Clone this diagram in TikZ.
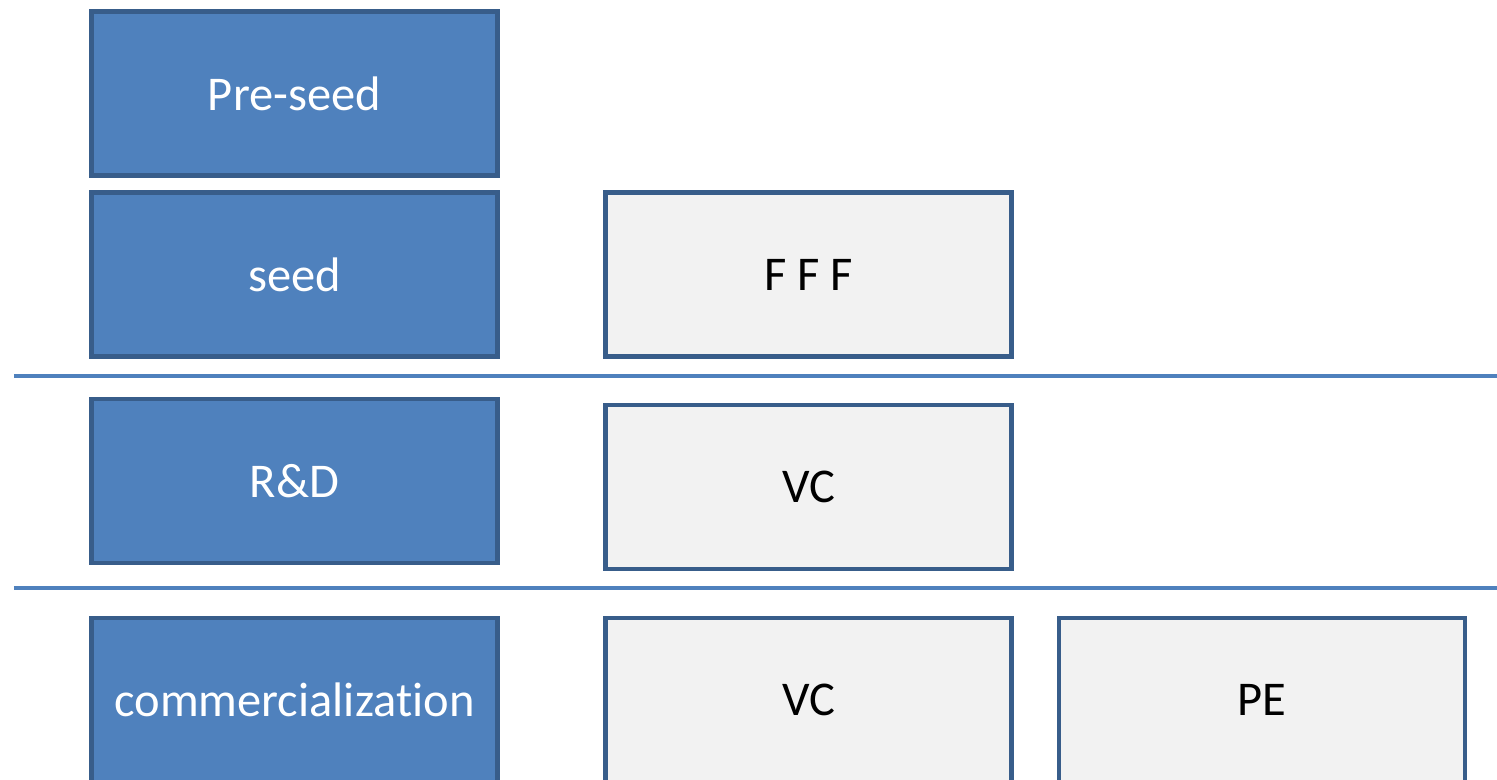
\documentclass[tikz,border=0pt]{standalone}
\usepackage{fontspec}
\setmainfont{Carlito}[Ligatures=NoCommon]
\definecolor{stageblue}{HTML}{4F81BD}
\definecolor{stageedge}{HTML}{385D8A}
\definecolor{fundgray}{HTML}{F2F2F2}
\begin{document}
\begin{tikzpicture}[every node/.style={font=\fontsize{13.8}{16}\selectfont},
    stage/.style={draw=stageedge, line width=1.4pt, fill=stageblue, text=white, minimum width=4.06cm, minimum height=1.64cm},
    fund/.style={draw=stageedge, line width=1.4pt, fill=fundgray, text=black, minimum width=4.06cm, minimum height=1.64cm},
    divider/.style={draw=stageblue, line width=1pt}]
      \useasboundingbox (0,0) rectangle (14.97,7.8);
      \clip (0,0) rectangle (14.97,7.8);
      \node[stage] (preseed) at (2.945,6.865) {Pre-seed};
      \node[stage] (seed) at (2.945,5.055) {seed};
      \node[stage] (rnd) at (2.945,2.99) {R\&D};
      \node[stage] (comm) at (2.945,0.80) {commercialization};
      \node[fund] (fff) at (8.085,5.055) {F F F};
      \node[fund] (vcrnd) at (8.085,2.93) {VC};
      \node[fund] (vccomm) at (8.085,0.80) {VC};
      \node[fund] (pe) at (12.62,0.80) {PE};
      \coordinate (divAl) at (0.14,4.04);
      \coordinate (divAr) at (14.97,4.04);
      \coordinate (divBl) at (0.14,1.92);
      \coordinate (divBr) at (14.97,1.92);
      \draw[divider] (divAl) -- (divAr);
      \draw[divider] (divBl) -- (divBr);
    \end{tikzpicture}
\end{document}
